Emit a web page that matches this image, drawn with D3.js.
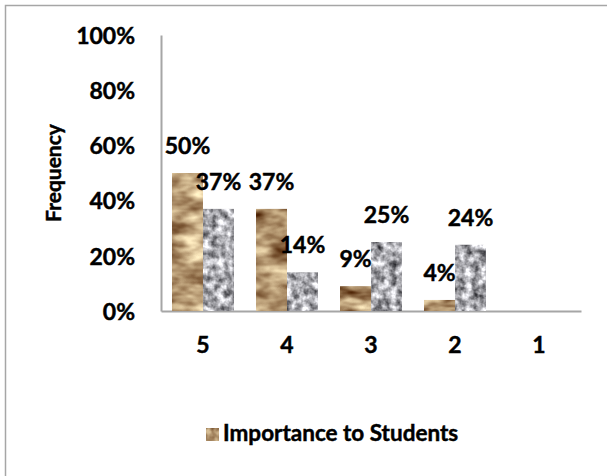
<!DOCTYPE html>
<html>
<head>
<meta charset="utf-8">
<script src="https://cdn.jsdelivr.net/npm/d3@7"></script>
<style>
  html, body { margin: 0; padding: 0; background: #fff; }
  svg { display: block; }
  text { font-family: Lato, "Open Sans", sans-serif; font-weight: bold; fill: #000; stroke: #000; stroke-width: 0.45px; }
</style>
</head>
<body>
<svg id="chart" width="607" height="476"></svg>
<script>
// ---- data ----
const categories = ["5", "4", "3", "2", "1"];
const seriesA = [0.50, 0.37, 0.09, 0.04, 0];   // brown textured bars
const seriesB = [0.37, 0.14, 0.25, 0.24, 0];   // gray textured bars
const yTicks = [0, 0.2, 0.4, 0.6, 0.8, 1.0];
const yTitle = "Frequency";
const legendLabel = "Importance to Students";

const svg = d3.select("#chart");

// textures
const defs = svg.append("defs");
function texture(id, freq, oct, seed, rows) {
  const f = defs.append("filter").attr("id", id)
    .attr("x", 0).attr("y", 0).attr("width", 1).attr("height", 1)
    .attr("filterUnits", "objectBoundingBox")
    .attr("color-interpolation-filters", "sRGB");
  f.append("feTurbulence").attr("type", "fractalNoise")
    .attr("baseFrequency", freq).attr("numOctaves", oct).attr("seed", seed)
    .attr("stitchTiles", "stitch").attr("result", "noise");
  f.append("feColorMatrix").attr("in", "noise").attr("type", "matrix")
    .attr("values", rows).attr("result", "col");
  f.append("feComposite").attr("in", "col").attr("in2", "SourceAlpha").attr("operator", "in");
}
// brown: dark (120,82,48) -> light (235,212,170)
texture("sand", "0.04 0.07", 3, 7,
  "1.13 0 0 0 0.13  1.28 0 0 0 -0.06  1.20 0 0 0 -0.17  0 0 0 0 1");
// gray: dark (105) -> light (238)
texture("granite", "0.13", 3, 3,
  "1.30 0 0 0 0.02  1.30 0 0 0 0.02  1.30 0 0 0 0.04  0 0 0 0 1");

// outer border
svg.append("rect").attr("x", 5.5).attr("y", 5.5).attr("width", 620).attr("height", 500)
  .attr("fill", "none").attr("stroke", "#a6a6a6").attr("stroke-width", 1.5);

const plot = { left: 161, right: 581, top: 35, bottom: 311 };

const x = d3.scaleBand().domain(categories).range([plot.left, plot.right]).paddingInner(0.262).paddingOuter(0.131);
const y = d3.scaleLinear().domain([0, 1]).range([plot.bottom, plot.top]);
const barW = x.bandwidth() / 2;
const pct = d3.format(".0%");

// axes
const yAxis = svg.append("g").attr("transform", `translate(${plot.left},0)`)
  .call(d3.axisLeft(y).tickValues(yTicks).tickFormat(pct).tickSize(0).tickPadding(26));
yAxis.select(".domain").attr("stroke", "#a6a6a6").attr("stroke-width", 2);
yAxis.selectAll("text").attr("font-size", 23).style("font-family", "Lato, sans-serif").style("font-weight", "bold").attr("dy", "0.36em");

const xAxis = svg.append("g").attr("transform", `translate(0,${plot.bottom})`)
  .call(d3.axisBottom(x).tickSize(0).tickPadding(26));
xAxis.select(".domain").attr("stroke", "#a6a6a6").attr("stroke-width", 2);
xAxis.selectAll("text").attr("font-size", 23).style("font-family", "Lato, sans-serif").style("font-weight", "bold");

// bars
const series = [
  { vals: seriesA, off: 0, filt: "url(#sand)" },
  { vals: seriesB, off: 1, filt: "url(#granite)" }
];
series.forEach(s => {
  svg.append("g").selectAll("rect")
    .data(categories.map((c, i) => ({ c, v: s.vals[i] })).filter(d => d.v > 0))
    .enter().append("rect")
    .attr("x", d => x(d.c) + s.off * barW)
    .attr("y", d => y(d.v))
    .attr("width", barW)
    .attr("height", d => y(0) - y(d.v))
    .attr("fill", "#000")
    .attr("filter", s.filt);
});
// labels
series.forEach(s => {
  svg.append("g").selectAll("text")
    .data(categories.map((c, i) => ({ c, v: s.vals[i] })).filter(d => d.v > 0))
    .enter().append("text")
    .attr("x", d => x(d.c) + s.off * barW + barW / 2)
    .attr("y", d => y(d.v) - 19)
    .attr("text-anchor", "middle")
    .attr("font-size", 23)
    .text(d => pct(d.v));
});

// y title
svg.append("text")
  .attr("transform", "translate(61,173) rotate(-90)")
  .attr("text-anchor", "middle")
  .attr("font-size", 21)
  .text(yTitle);

// legend
svg.append("rect").attr("x", 206).attr("y", 428).attr("width", 13).attr("height", 13)
  .attr("fill", "#000").attr("filter", "url(#sand)");
svg.append("text").attr("x", 223).attr("y", 441).attr("font-size", 22.5).text(legendLabel);
</script>
</body>
</html>
